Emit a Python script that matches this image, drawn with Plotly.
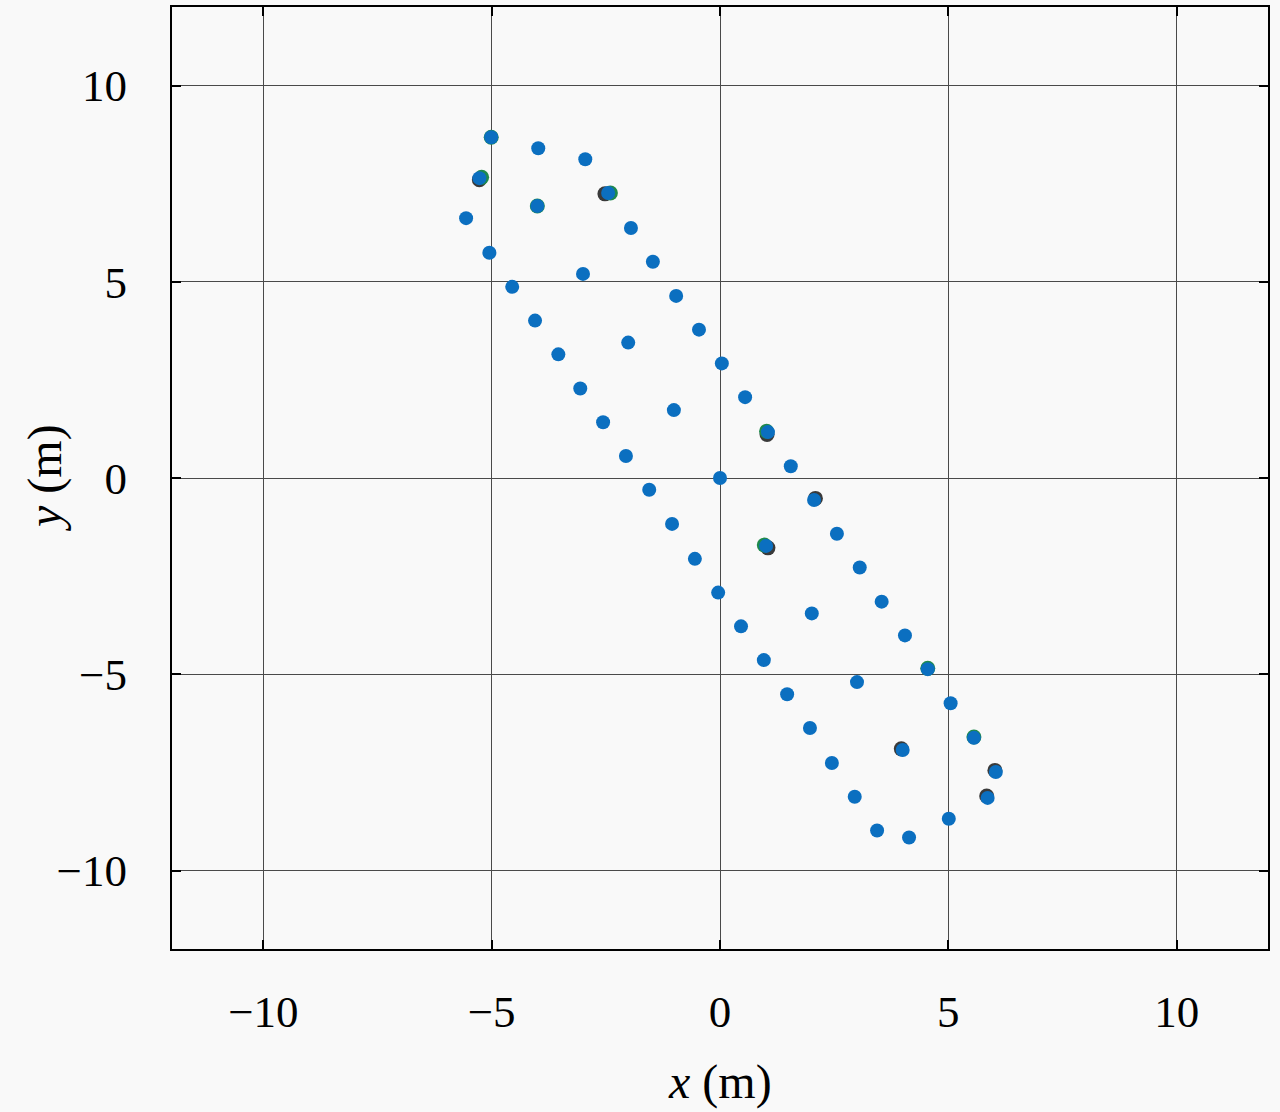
import plotly.graph_objects as go

# Blue series (top layer)
x_blue = [-5.01, -3.98, -2.95, -5.27, -2.45, -4.00, -5.56, -1.95, -5.05, -3.00,
          -1.47, -4.55, -0.96, -4.05, -0.46, -2.01, -3.54, 0.04, -3.06, 0.55,
          -1.01, -2.56, 1.05, -2.06, 1.55, 0.00, -1.55, 2.06, -1.05, 2.56,
          1.01, -0.55, 3.06, -0.04, 3.54, 2.01, 0.46, 4.05, 0.96, 4.55,
          1.47, 5.05, 3.00, 1.97, 5.56, 4.00, 2.45, 6.04, 2.95, 5.86,
          3.44, 5.01, 4.14]
y_blue = [8.68, 8.40, 8.12, 7.64, 7.26, 6.93, 6.62, 6.37, 5.74, 5.20,
          5.51, 4.87, 4.64, 4.01, 3.78, 3.45, 3.15, 2.92, 2.28, 2.06,
          1.73, 1.42, 1.17, 0.56, 0.30, 0.00, -0.30, -0.56, -1.17, -1.42,
          -1.73, -2.06, -2.28, -2.92, -3.15, -3.45, -3.78, -4.01, -4.64, -4.87,
          -5.51, -5.74, -5.20, -6.37, -6.62, -6.93, -7.26, -7.49, -8.12, -8.15,
          -8.98, -8.68, -9.16]

# Green series (partly hidden below blue)
x_green = [-5.01, -5.22, -2.40, -4.00, 1.02, 0.97, 5.56, 4.55]
y_green = [8.68, 7.66, 7.26, 6.93, 1.19, -1.71, -6.60, -4.85]

# Dark series (partly hidden below blue)
x_dark = [-5.27, -2.52, 1.03, 1.05, 6.02, 5.84, 3.97, 2.09]
y_dark = [7.60, 7.24, 1.11, -1.78, -7.45, -8.10, -6.90, -0.52]

x_ticks = [-10, -5, 0, 5, 10]
y_ticks = [-10, -5, 0, 5, 10]

fig = go.Figure()
fig.add_trace(go.Scatter(x=x_dark, y=y_dark, mode="markers",
                         marker=dict(size=15, color="#3a3a3a"), showlegend=False))
fig.add_trace(go.Scatter(x=x_green, y=y_green, mode="markers",
                         marker=dict(size=15, color="#1f8a4c"), showlegend=False))
fig.add_trace(go.Scatter(x=x_blue, y=y_blue, mode="markers",
                         marker=dict(size=14, color="#0b6fc0"), showlegend=False))

axis_common = dict(
    showline=True, linecolor="black", linewidth=2, mirror="allticks",
    ticks="inside", ticklen=9, tickwidth=1.5, tickcolor="black",
    showgrid=True, gridcolor="#4a4a4a", gridwidth=1,
    zeroline=False,
    tickfont=dict(family="Liberation Serif", size=45, color="black"),
)

fig.update_xaxes(range=[-12, 12], tickvals=x_ticks, ticklabelstandoff=22, **axis_common)
fig.update_yaxes(range=[-12, 12], tickvals=y_ticks, ticklabelstandoff=34, **axis_common)

title_font = dict(family="Liberation Serif", size=48, color="black")
fig.add_annotation(text="<i>x</i> (m)", xref="paper", yref="paper",
                   x=0.5, y=-0.1409, xanchor="center", yanchor="middle",
                   showarrow=False, font=title_font)
fig.add_annotation(text="<i>y</i> (m)", xref="paper", yref="paper",
                   x=-0.1159, y=0.5, xanchor="center", yanchor="middle",
                   textangle=-90, showarrow=False, font=title_font)

fig.update_layout(
    width=1280, height=1112,
    margin=dict(l=172, r=12, t=5, b=163),
    paper_bgcolor="#f9f9f9", plot_bgcolor="#f9f9f9",
    font=dict(family="Liberation Serif", color="black"),
)

fig.write_html("out.html", config={"displayModeBar": False},
               post_script="document.body.style.margin='0';document.body.style.overflow='hidden';")
